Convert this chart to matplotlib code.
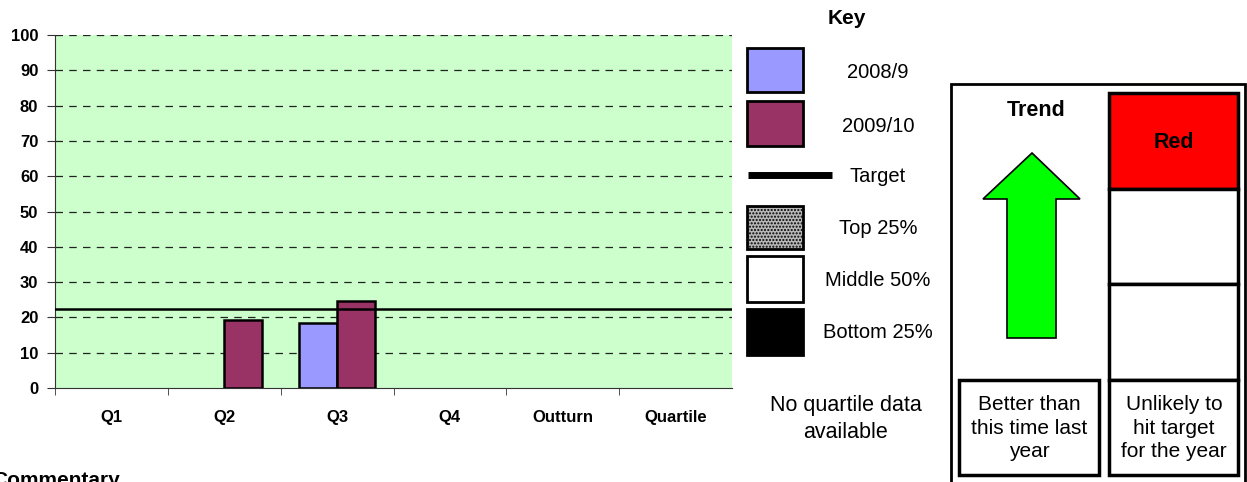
#Grafica indicador trimestral con clave y panel de tendencia

import numpy as np
import matplotlib.pyplot as plt
from matplotlib.patches import Rectangle, Polygon

plt.rcParams['font.family'] = ['Liberation Sans', 'DejaVu Sans']

#Datos
categorias = ['Q1', 'Q2', 'Q3', 'Q4', 'Outturn', 'Quartile']
valores2008 = [np.nan, np.nan, 18.5, np.nan, np.nan, np.nan]
valores2009 = [np.nan, 19.2, 24.6, np.nan, np.nan, np.nan]
objetivo = 22.4
yticks = [0, 10, 20, 30, 40, 50, 60, 70, 80, 90, 100]
claves = ['2008/9', '2009/10', 'Target', 'Top 25%', 'Middle 50%', 'Bottom 25%']
textoTendencia = 'Better than\nthis time last\nyear'
textoObjetivo = 'Unlikely to\nhit target\nfor the year'

W, H = 1247, 482
fig = plt.figure(figsize=(W / 100, H / 100), dpi=100)

#Grafica de barras
ax = fig.add_axes([55 / W, (H - 388) / H, (732 - 55) / W, (388 - 35) / H])
ax.set_facecolor('#CCFFCC')
x = np.arange(len(categorias))
ancho = 0.335
ax.bar(x - ancho / 2, valores2008, ancho, color='#9999FF', edgecolor='black', linewidth=1.8, zorder=3)
ax.bar(x + ancho / 2, valores2009, ancho, color='#993366', edgecolor='black', linewidth=1.8, zorder=3)
ax.axhline(objetivo, color='black', linewidth=1.8, zorder=4)
for v in yticks[1:]:
    ax.axhline(v, color='#222222', linewidth=0.9, linestyle=(0, (6, 5)), zorder=1)
ax.set_xlim(-0.5, len(categorias) - 0.5)
ax.set_ylim(0, 100)
ax.set_yticks(yticks)
ax.set_yticklabels([str(v) for v in yticks], fontsize=12, fontweight='bold')
ax.set_xticks(x)
ax.set_xticklabels(categorias, fontsize=12, fontweight='bold')
ax.set_xticks(np.arange(len(categorias)) - 0.5, minor=True)
ax.tick_params(axis='x', which='major', length=0, pad=16)
ax.tick_params(axis='x', which='minor', length=5, direction='out', color='#333333')
ax.tick_params(axis='y', length=6, direction='out', color='#333333', pad=6)
for s in ['top', 'right']:
    ax.spines[s].set_visible(False)
ax.spines['left'].set_color('#333333')
ax.spines['bottom'].set_color('#333333')

#Capa en pixeles para la clave y el panel
ov = fig.add_axes([0, 0, 1, 1])
ov.set_xlim(0, W)
ov.set_ylim(H, 0)
ov.axis('off')

ov.text(847, 19, 'Key', fontsize=15, fontweight='bold', ha='center', va='center')
cajas = [(48, 92, '#9999FF', None), (101, 146, '#993366', None), None,
         (206, 249, '#B8B8B8', '.....'), (256, 302, 'white', None), (309, 355, 'black', None)]
ytextos = [73, 126, 177, 229, 280, 332]
for i in range(len(claves)):
    if cajas[i] is None:
        ov.plot([748, 832], [175, 175], color='black', linewidth=5, solid_capstyle='butt')
    else:
        y0, y1, c, h = cajas[i]
        ov.add_patch(Rectangle((747, y0), 56, y1 - y0, facecolor=c, edgecolor='black',
                               linewidth=2, hatch=h))
    ov.text(878, ytextos[i], claves[i], fontsize=14.5, ha='center', va='center')
ov.text(846, 419, 'No quartile data\navailable', fontsize=15.5, ha='center', va='center',
        linespacing=1.35)

#Panel de tendencia
ov.add_patch(Rectangle((951, 84), 294, 420, facecolor='white', edgecolor='black', linewidth=2))
ov.text(1036, 111, 'Trend', fontsize=15.5, fontweight='bold', ha='center', va='center')
ov.add_patch(Polygon([(1032, 153), (1080, 199), (1056, 199), (1056, 338), (1007, 338),
                      (1007, 199), (983, 199)], closed=True, facecolor='#00FF00',
                     edgecolor='black', linewidth=1.2))
ov.add_patch(Rectangle((1109, 93), 129, 96, facecolor='#FF0000', edgecolor='black', linewidth=2.5))
ov.text(1174, 142, 'Red', fontsize=15.5, fontweight='bold', ha='center', va='center')
ov.add_patch(Rectangle((1109, 189), 129, 95, facecolor='white', edgecolor='black', linewidth=2.5))
ov.add_patch(Rectangle((1109, 284), 129, 96, facecolor='white', edgecolor='black', linewidth=2.5))
ov.add_patch(Rectangle((1109, 380), 129, 95, facecolor='white', edgecolor='black', linewidth=2.5))
ov.add_patch(Rectangle((959, 380), 140, 95, facecolor='white', edgecolor='black', linewidth=2.5))
ov.text(1029, 428, textoTendencia, fontsize=15, ha='center', va='center', linespacing=1.32)
ov.text(1174, 428, textoObjetivo, fontsize=15, ha='center', va='center', linespacing=1.32)

ov.text(-8, 471, 'Commentary', fontsize=15, fontweight='bold', ha='left', va='top')

plt.savefig('out.png', dpi=100)
